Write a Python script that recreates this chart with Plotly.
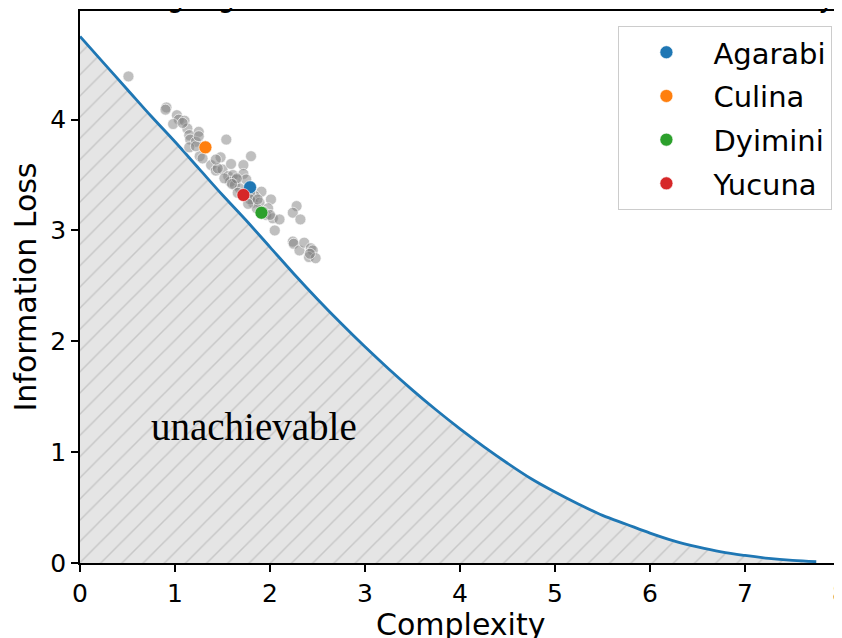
import plotly.graph_objects as go

# ---------------- data ----------------
bound_complexity = [0.0, 0.25, 0.5, 0.75, 1.0, 1.25, 1.5, 1.75, 2.0, 2.25, 2.5, 2.75,
                    3.0, 3.25, 3.5, 3.75, 4.0, 4.25, 4.5, 4.75, 5.0, 5.25, 5.5, 5.75,
                    6.0, 6.25, 6.5, 6.75, 7.0, 7.25, 7.5, 7.75]
bound_loss = [4.75, 4.51, 4.27, 4.03, 3.80, 3.56, 3.32, 3.09, 2.85, 2.61, 2.38, 2.16,
              1.95, 1.75, 1.56, 1.38, 1.21, 1.05, 0.90, 0.76, 0.64, 0.53, 0.43, 0.35,
              0.27, 0.20, 0.145, 0.10, 0.068, 0.042, 0.024, 0.012]

other_complexity = [0.51, 0.91, 0.90, 1.02, 1.04, 0.98, 1.10, 1.13, 1.25, 1.15, 1.16, 1.22,
                    1.15, 1.54, 1.26, 1.38, 1.48, 1.43, 1.50, 1.59, 1.72, 1.80, 1.56, 1.61,
                    1.72, 1.65, 1.58, 1.63, 1.68, 1.66, 1.91, 2.01, 1.84, 1.82, 1.89, 1.86,
                    1.98, 1.96, 2.03, 2.10, 2.05, 2.28, 2.24, 2.32, 2.24, 2.25, 2.31, 2.36,
                    2.43, 2.45, 2.41, 2.48, 2.42, 1.75, 1.65, 1.79, 1.79, 1.77, 1.87, 1.93,
                    1.32, 1.22, 1.25, 1.45, 1.52, 1.60, 2.00, 1.08, 1.43, 1.29]
other_loss = [4.39, 4.11, 4.09, 4.04, 4.00, 3.96, 3.99, 3.92, 3.89, 3.86, 3.82, 3.80,
              3.75, 3.82, 3.67, 3.59, 3.66, 3.54, 3.55, 3.60, 3.59, 3.67, 3.49, 3.50,
              3.51, 3.46, 3.44, 3.41, 3.38, 3.34, 3.35, 3.28, 3.31, 3.25, 3.25, 3.20,
              3.20, 3.14, 3.11, 3.10, 3.00, 3.22, 3.16, 3.10, 2.90, 2.88, 2.82, 2.89,
              2.84, 2.82, 2.76, 2.75, 2.79, 3.46, 3.47, 3.34, 3.28, 3.24, 3.28, 3.17,
              3.76, 3.76, 3.85, 3.56, 3.47, 3.42, 3.14, 3.97, 3.64, 3.65]

languages = ["Agarabi", "Culina", "Dyimini", "Yucuna"]
lang_complexity = [1.79, 1.32, 1.91, 1.72]
lang_loss = [3.39, 3.75, 3.16, 3.32]
lang_colors = ["#1f77b4", "#ff7f0e", "#2ca02c", "#d62728"]

x_ticks = [0, 1, 2, 3, 4, 5, 6, 7, 8]
y_ticks = [0, 1, 2, 3, 4]

title_text = "WCS Languages and the Information Bottleneck Efficiency Frontier"
x_label = "Complexity"
y_label = "Information Loss"

# ---------------- figure ----------------
FONT = "DejaVu Sans"
# the page body adds an 8 px offset; size and margins compensate so the axes
# land at x 80..840, y 11..563 in the browser window
FIG_W, FIG_H = 834, 630
M_L, M_R, M_T, M_B = 72, 2, 3, 75
PLOT_W = FIG_W - M_L - M_R

fig = go.Figure()

fig.add_trace(go.Scatter(
    x=bound_complexity, y=bound_loss, mode="lines",
    line=dict(color="#1f77b4", width=2.8, shape="spline"),
    fill="tozeroy", fillcolor="#e5e5e5",
    fillpattern=dict(shape="/", bgcolor="#e5e5e5", fgcolor="#aaaaaa",
                     size=15, solidity=0.1),
    showlegend=False, hoverinfo="skip",
))

fig.add_trace(go.Scatter(
    x=other_complexity, y=other_loss, mode="markers",
    marker=dict(size=11, color="rgba(128,128,128,0.5)",
                line=dict(color="rgba(255,255,255,0.8)", width=0.8)),
    showlegend=False,
))

for name, cx, cy, col in zip(languages, lang_complexity, lang_loss, lang_colors):
    fig.add_trace(go.Scatter(
        x=[cx], y=[cy], mode="markers", name=name, legendgroup=name,
        marker=dict(size=13, color=col, line=dict(color="white", width=0.6)),
    ))

axis_common = dict(
    showgrid=False, zeroline=False, showline=True, linecolor="black",
    linewidth=1.5, mirror=True, ticks="outside", ticklen=7, tickwidth=1.5,
    tickcolor="black", tickfont=dict(family=FONT, size=25, color="black"),
    automargin=False,
)

fig.update_layout(
    width=FIG_W, height=FIG_H,
    margin=dict(l=M_L, r=M_R, t=M_T, b=M_B, autoexpand=False),
    plot_bgcolor="white", paper_bgcolor="white",
    font=dict(family=FONT, color="black"),
    xaxis=dict(range=[0, 8], tickvals=x_ticks, ticklabeloverflow="allow",
               **axis_common),
    yaxis=dict(range=[0, 4.98], tickvals=y_ticks,
               title=dict(text=y_label, font=dict(family=FONT, size=30), standoff=10),
               **axis_common),
    legend=dict(
        x=0.99, xanchor="right", y=0.973, yanchor="top",
        bgcolor="rgba(255,255,255,0.8)", bordercolor="#cccccc", borderwidth=1,
        font=dict(family=FONT, size=29, color="black"),
        itemwidth=84, tracegroupgap=3,
    ),
    showlegend=True,
    annotations=[
        dict(text="unachievable", x=1.83, y=1.23, xref="x", yref="y",
             showarrow=False, font=dict(family="Liberation Serif", size=39, color="black")),
        dict(text=x_label, x=0.5, xref="paper", xanchor="center",
             y=0, yref="paper", yanchor="middle", yshift=-61, showarrow=False,
             font=dict(family=FONT, size=30, color="black")),
        dict(text=title_text, x=(37 - M_L) / PLOT_W, xref="paper", xanchor="left",
             y=1, yref="paper", yanchor="bottom", yshift=-4, showarrow=False,
             font=dict(family=FONT, size=27, color="black")),
    ],
)

fig.write_html("out.html")
